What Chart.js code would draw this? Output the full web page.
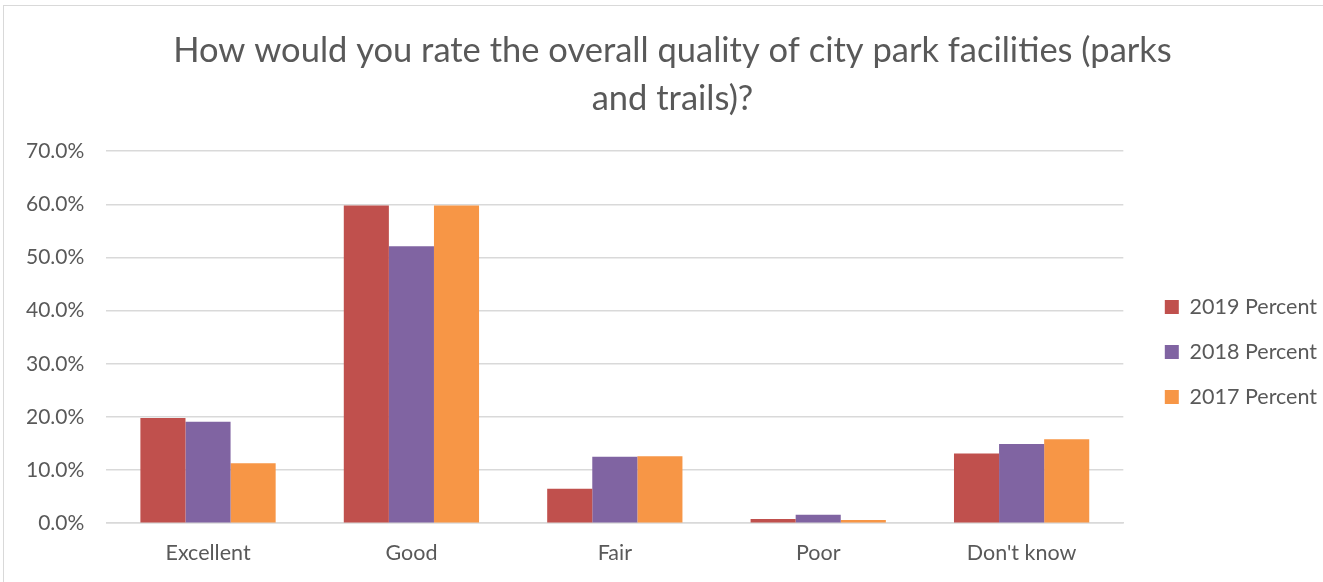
<!DOCTYPE html>
<html>
<head>
<meta charset="utf-8">
<script src="https://cdn.jsdelivr.net/npm/chart.js@4.4.0/dist/chart.umd.min.js"></script>
<style>
    body { margin: 0; background: #fff; }
    #frame {
        position: absolute;
        left: 3px;
        top: 5px;
        width: 1330px;
        height: 590px;
        border: 1px solid #d9d9d9;
        box-sizing: border-box;
    }
    #wrap { position: absolute; left: 0; top: 0; width: 1323px; height: 582px; }
</style>
</head>
<body>
<div id="frame"></div>
<div id="wrap"><canvas id="chart" width="1323" height="582"></canvas></div>
<script>
// Chart data
const categories = ['Excellent', 'Good', 'Fair', 'Poor', "Don't know"];
const percent2019 = [19.8, 59.8, 6.5, 0.8, 13.1];
const percent2018 = [19.1, 52.1, 12.5, 1.6, 14.9];
const percent2017 = [11.3, 59.8, 12.6, 0.6, 15.8];
const seriesNames = ['2019 Percent', '2018 Percent', '2017 Percent'];
const seriesColors = ['#c0504d', '#8064a2', '#f79646'];
const titleLines = ['How would you rate the overall quality of city park facilities (parks', 'and trails)?'];

const textColor = '#595959';
const gridColor = '#d9d9d9';
const fontFamily = 'Lato, "Open Sans", sans-serif';

// nudge the legend and title to where the original puts them
const boxShift = {
    id: 'boxShift',
    afterLayout(chart) {
        const lg = chart.legend;
        if (lg) {
            lg.left += 18; lg.right += 18;
            lg.top += 47; lg.bottom += 47;
        }
        const tb = chart.titleBlock;
        if (tb) {
            tb.left += 16; tb.right += 16;
        }
    }
};

const ctx = document.getElementById('chart');

new Chart(ctx, {
    type: 'bar',
    data: {
        labels: categories,
        datasets: [percent2019, percent2018, percent2017].map((values, i) => ({
            label: seriesNames[i],
            data: values,
            backgroundColor: seriesColors[i],
            borderWidth: 0,
            barPercentage: 1,
            categoryPercentage: 0.665
        }))
    },
    options: {
        responsive: false,
        animation: false,
        layout: { padding: { top: 27, left: 4, right: 14, bottom: -1 } },
        plugins: {
            title: {
                display: true,
                text: titleLines,
                color: textColor,
                font: { family: fontFamily, size: 34.5, weight: 'normal', lineHeight: 1.38 },
                padding: { top: 0, bottom: 29 }
            },
            legend: {
                position: 'right',
                align: 'center',
                labels: {
                    color: textColor,
                    font: { family: fontFamily, size: 21.5 },
                    boxWidth: 14,
                    boxHeight: 14,
                    padding: 23.5
                }
            },
            tooltip: { enabled: false }
        },
        scales: {
            x: {
                grid: { display: false, drawTicks: false },
                border: { color: gridColor, width: 1.5 },
                ticks: {
                    color: textColor,
                    font: { family: fontFamily, size: 21.5 },
                    padding: 17
                }
            },
            y: {
                min: 0,
                max: 70,
                grid: { color: gridColor, lineWidth: 1.5, drawTicks: false },
                border: { display: false },
                ticks: {
                    stepSize: 10,
                    color: textColor,
                    font: { family: fontFamily, size: 21 },
                    padding: 22,
                    callback: v => v.toFixed(1) + '%'
                }
            }
        }
    },
    plugins: [boxShift]
});
</script>
</body>
</html>
